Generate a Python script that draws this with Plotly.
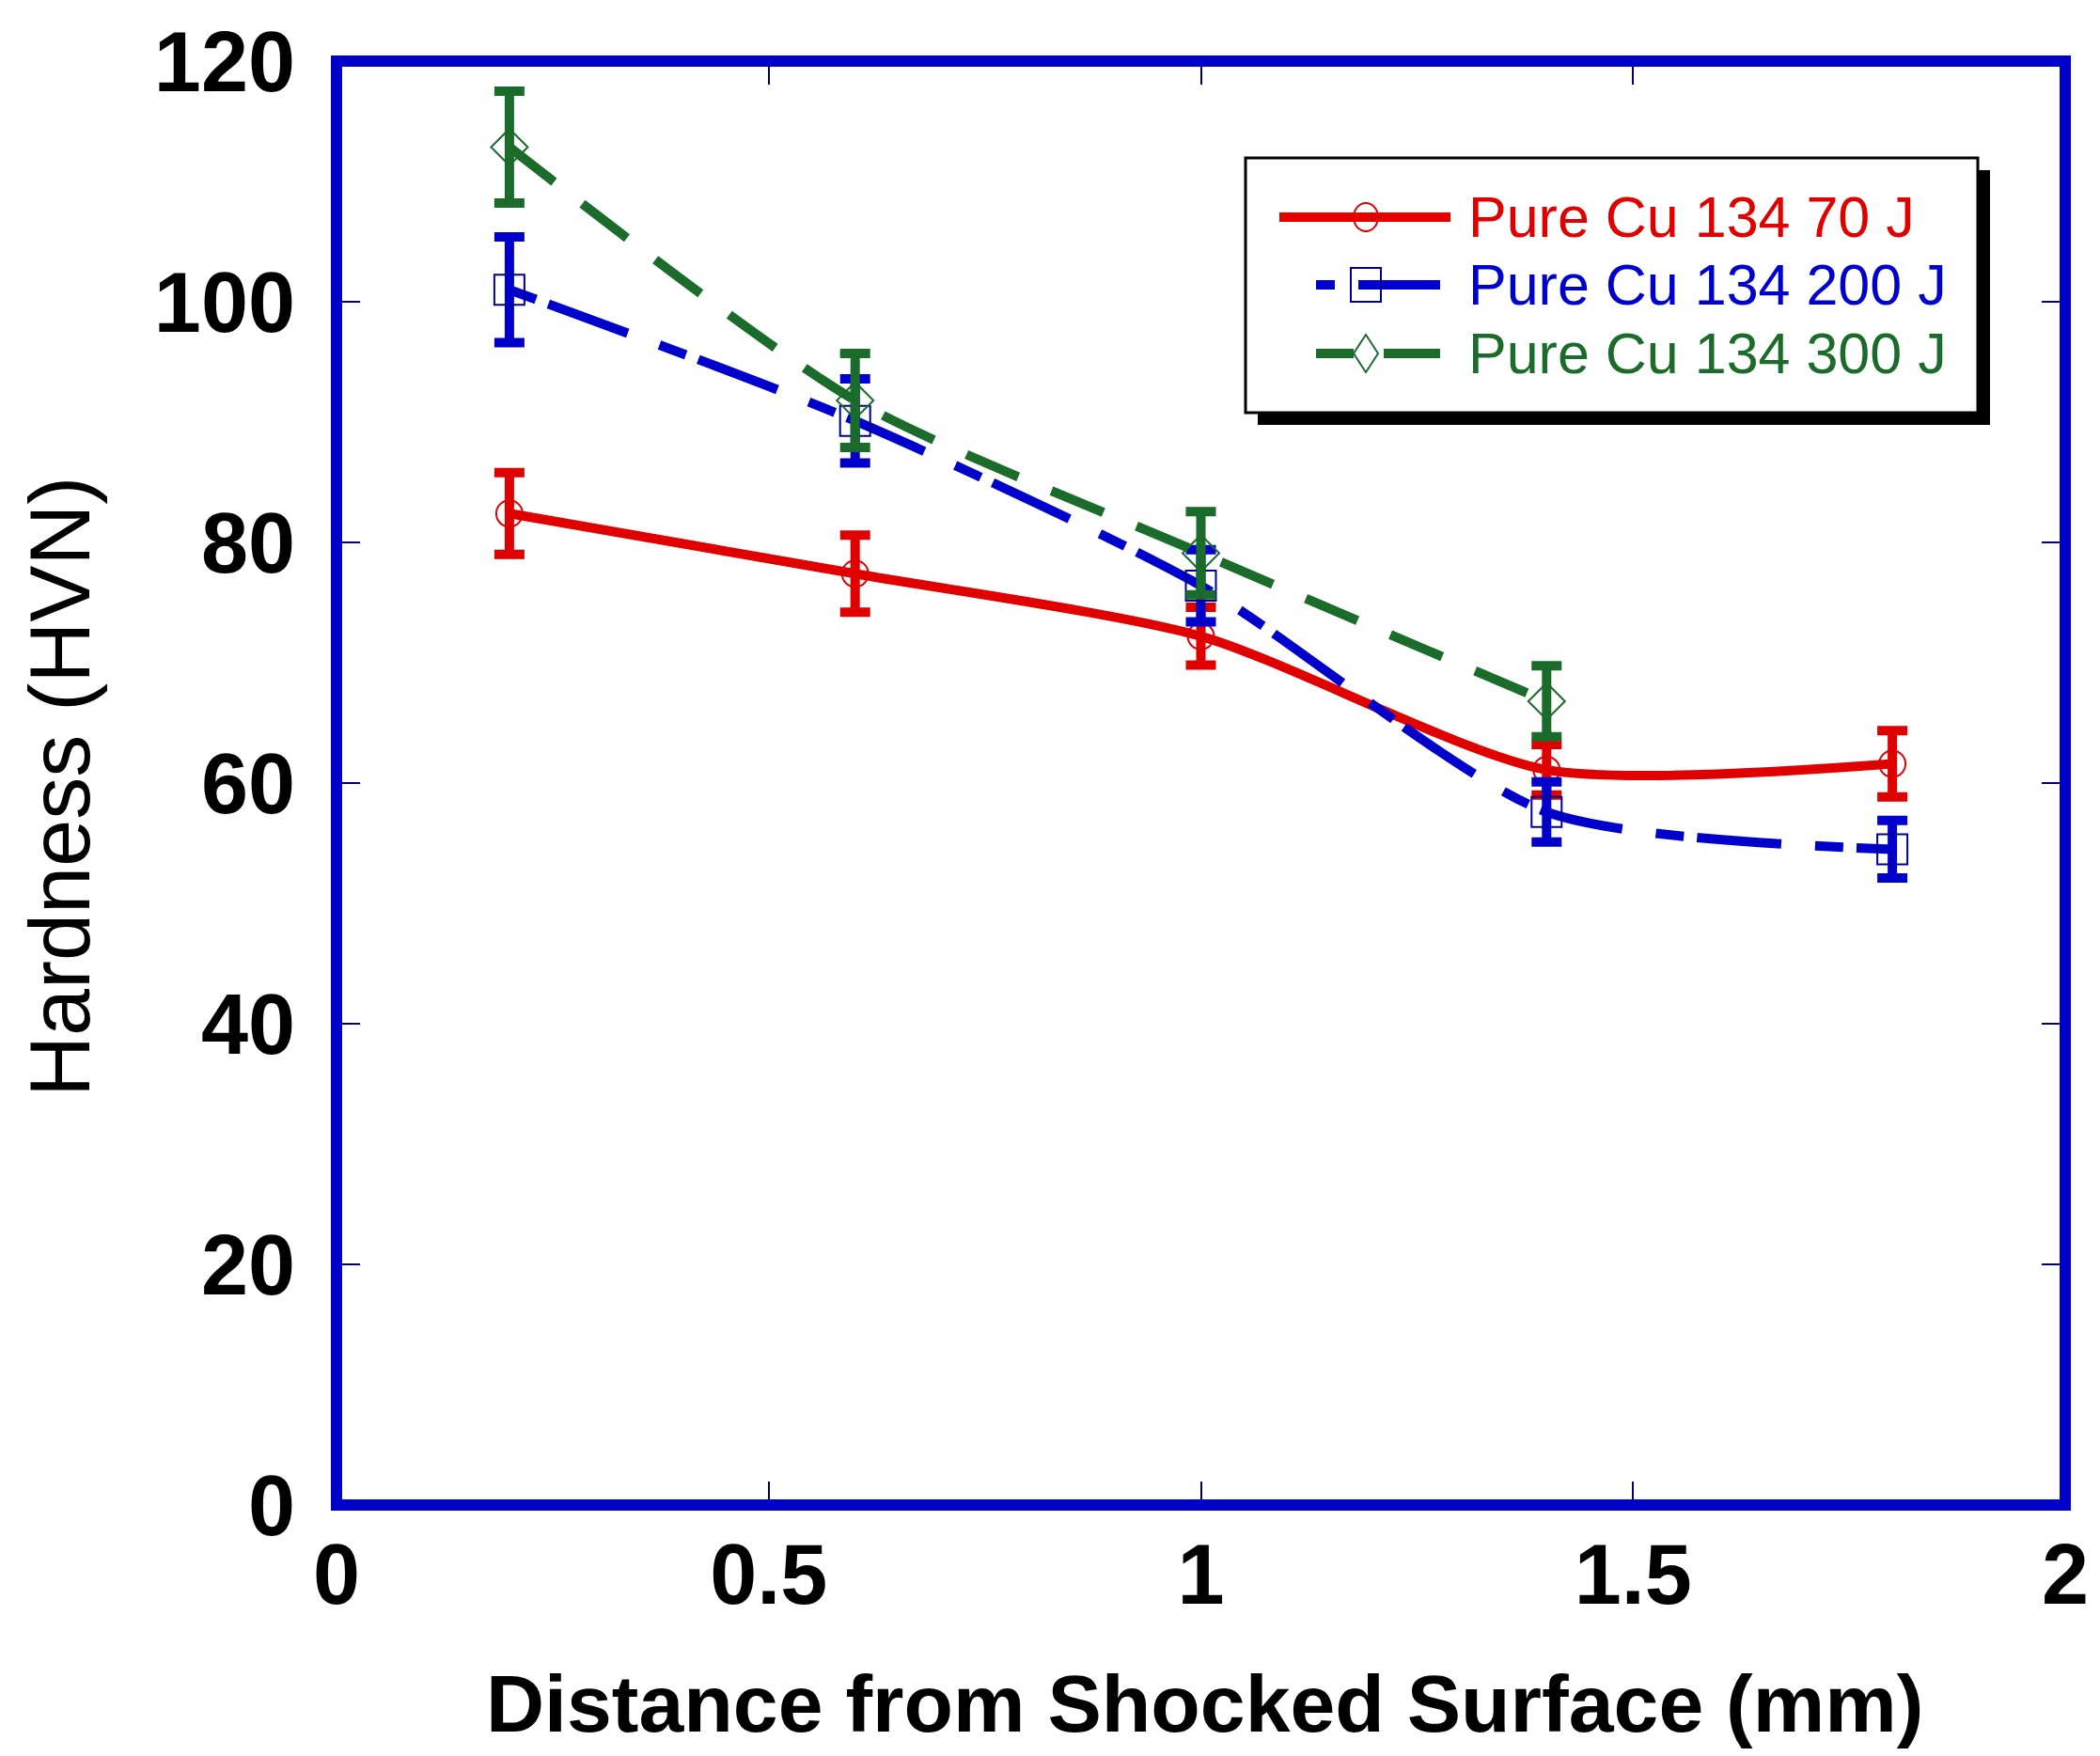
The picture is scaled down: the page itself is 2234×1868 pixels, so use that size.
import plotly.graph_objects as go

# Measured hardness profiles (HVN) versus depth below the shocked surface
distance_mm = [0.2, 0.6, 1.0, 1.4, 1.8]

hv_70J = [82.4, 77.4, 72.2, 61.1, 61.6]
err_70J = [3.4, 3.2, 2.4, 2.1, 2.75]

hv_200J = [101.0, 90.1, 76.4, 57.6, 54.5]
err_200J = [4.4, 3.5, 3.0, 2.5, 2.4]

distance_300J = [0.2, 0.6, 1.0, 1.4]
hv_300J = [112.85, 91.8, 79.1, 66.8]
err_300J = [4.65, 3.9, 3.45, 2.95]

series_names = ["Pure Cu 134 70 J", "Pure Cu 134 200 J", "Pure Cu 134 300 J"]

x_ticks = [0, 0.5, 1, 1.5, 2]
x_tick_text = ["0", "0.5", "1", "1.5", "2"]
y_ticks = [0, 20, 40, 60, 80, 100, 120]

RED = "#E00000"
BLUE = "#0000CC"
GREEN = "#1B6B2B"
FRAME = "#0000CC"
FONT = "Liberation Sans, Arial, sans-serif"

W, H = 2234, 1868
PL, PR, PT, PB = 358, 2197, 65, 1601


def fx(px):
    return (px - PL) / (PR - PL)


def fy(py):
    return (PB - py) / (PB - PT)


fig = go.Figure()

fig.add_trace(go.Scatter(
    x=distance_mm, y=hv_70J, name=series_names[0], mode="lines+markers",
    line=dict(color=RED, width=10, shape="spline", smoothing=0.7),
    marker=dict(symbol="circle-open", size=28, color=RED, line=dict(width=2, color=RED)),
    error_y=dict(type="data", array=err_70J, color=RED, thickness=10, width=16),
))
fig.add_trace(go.Scatter(
    x=distance_mm, y=hv_200J, name=series_names[1], mode="lines+markers",
    line=dict(color=BLUE, width=10, shape="spline", smoothing=0.7, dash="30px,14px,90px,36px"),
    marker=dict(symbol="square-open", size=32, color="#000090", line=dict(width=2, color="#000090")),
    error_y=dict(type="data", array=err_200J, color=BLUE, thickness=10, width=16),
))
fig.add_trace(go.Scatter(
    x=distance_300J, y=hv_300J, name=series_names[2], mode="lines+markers",
    line=dict(color=GREEN, width=10, shape="spline", smoothing=0.7, dash="60px,38px"),
    marker=dict(symbol="diamond-open", size=30, color=GREEN, line=dict(width=2, color=GREEN)),
    error_y=dict(type="data", array=err_300J, color=GREEN, thickness=10, width=16),
))

shapes = []
# plot frame
shapes.append(dict(type="rect", xref="paper", yref="paper", x0=0, x1=1, y0=0, y1=1,
                   line=dict(color=FRAME, width=12), layer="above"))

# legend box with drop shadow
LX0, LX1, LY0, LY1 = 1325, 2104, 168, 439
SH = 13
shapes.append(dict(type="rect", xref="paper", yref="paper",
                   x0=fx(LX0 + SH), x1=fx(LX1 + SH), y0=fy(LY1 + SH), y1=fy(LY0 + SH),
                   fillcolor="black", line=dict(width=0), layer="above"))
shapes.append(dict(type="rect", xref="paper", yref="paper",
                   x0=fx(LX0), x1=fx(LX1), y0=fy(LY1), y1=fy(LY0),
                   fillcolor="white", line=dict(color="black", width=3), layer="above"))

rows = [231, 303, 376]
MX = 1453


def seg(x0, x1, y, color):
    return dict(type="line", xref="paper", yref="paper", x0=fx(x0), x1=fx(x1),
                y0=fy(y), y1=fy(y), line=dict(color=color, width=10), layer="above")


def marker_shape(kind, y, color, hw, hh):
    d = dict(xref="paper", yref="paper", xsizemode="pixel", ysizemode="pixel",
             xanchor=fx(MX), yanchor=fy(y), line=dict(color=color, width=2),
             fillcolor="rgba(0,0,0,0)", layer="above")
    if kind == "diamond":
        d.update(type="path", path=f"M0,{hh} L{hw},0 L0,-{hh} L-{hw},0 Z")
    else:
        d.update(type=kind, x0=-hw, x1=hw, y0=-hh, y1=hh)
    return d


shapes.append(seg(1361, 1543, rows[0], RED))
shapes.append(marker_shape("circle", rows[0], RED, 13, 15))
shapes.append(seg(1400, 1420, rows[1], BLUE))
shapes.append(seg(1445, 1532, rows[1], BLUE))
shapes.append(marker_shape("rect", rows[1], "#000090", 16, 18))
shapes.append(seg(1400, 1440, rows[2], GREEN))
shapes.append(seg(1472, 1532, rows[2], GREEN))
shapes.append(marker_shape("diamond", rows[2], GREEN, 13, 20))

annotations = []
for name, color, yrow in zip(series_names, [RED, BLUE, GREEN], rows):
    annotations.append(dict(text=name, xref="paper", yref="paper", x=fx(1560), y=fy(yrow),
                            xanchor="left", yanchor="middle", showarrow=False,
                            font=dict(family=FONT, size=61, color=color)))

# axis titles
annotations.append(dict(text="Distance from Shocked Surface (mm)", xref="paper", yref="paper",
                        x=fx(1281), y=fy(1812), xanchor="center", yanchor="middle",
                        showarrow=False,
                        font=dict(family=FONT, size=86, color="black", weight="bold")))
annotations.append(dict(text="Hardness (HVN)", xref="paper", yref="paper",
                        x=fx(64), y=fy(837), xanchor="center", yanchor="middle",
                        textangle=-90, showarrow=False,
                        font=dict(family=FONT, size=90, color="black")))

axis_common = dict(
    showgrid=False, zeroline=False, showline=False,
    ticks="inside", ticklen=25, tickwidth=2, tickcolor="#000070",
    mirror="ticks",
    tickfont=dict(family=FONT, size=90, color="black", weight="bold"),
)

fig.update_layout(
    width=W, height=H,
    margin=dict(l=PL, r=W - PR, t=PT, b=H - PB, autoexpand=False),
    paper_bgcolor="white", plot_bgcolor="white",
    showlegend=False,
    xaxis=dict(range=[0, 2], tickvals=x_ticks, ticktext=x_tick_text,
               ticklabelstandoff=14, **axis_common),
    yaxis=dict(range=[0, 120], tickvals=y_ticks, ticklabelstandoff=43, **axis_common),
    shapes=shapes,
    annotations=annotations,
)

fig.write_html("out.html")
